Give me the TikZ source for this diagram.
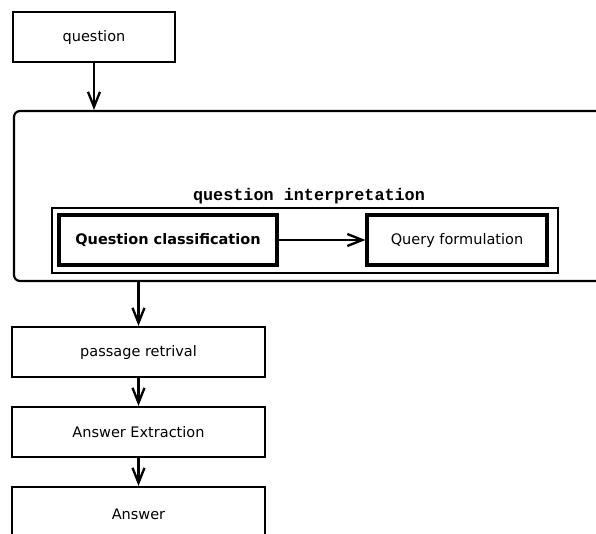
\documentclass[tikz,border=0pt]{standalone}
\usepackage{fontspec}
\setmainfont{DejaVu Sans}
\newfontfamily\monob{Liberation Mono}
\usetikzlibrary{arrows.meta}
\tikzset{
  x=1pt, y=-1pt,
  stepbox/.style={draw, line width=2.2pt, rectangle, inner sep=0pt, font=\fontsize{14.5}{16}\selectfont},
  thickbox/.style={draw, line width=3.2pt, rectangle, inner sep=0pt, minimum width=216pt, minimum height=50pt},
  flow/.style={line width=2.3pt, -{Straight Barb[length=15pt,width=12pt,line width=2.3pt]}},
}
\begin{document}
\begin{tikzpicture}
\useasboundingbox (0,0) rectangle (596,533);
\clip (0,0) rectangle (596,533);
\node[stepbox, minimum width=162pt, minimum height=50pt] (q) at (94,37) {question};
\node[draw, line width=2.2pt, rounded corners=6pt, minimum width=606pt, minimum height=170pt, inner sep=0pt] (interp) at (317,196) {};
\node[font=\monob\bfseries\fontsize{16.8}{18}\selectfont, inner sep=0pt] (lbl) at (309,196) {question interpretation};
\node[draw, line width=2pt, minimum width=506pt, minimum height=65pt, inner sep=0pt] (frame) at (305,240.5) {};
\node[thickbox, minimum width=218pt, font=\fontsize{14.5}{16}\selectfont\bfseries] (qc) at (168,240) {Question classification};
\node[thickbox, minimum width=180pt, font=\fontsize{14.5}{16}\selectfont] (qf) at (457,240) {Query formulation};
\node[stepbox, minimum width=253pt, minimum height=50pt] (pr) at (138.5,352) {passage retrival};
\node[stepbox, minimum width=253pt, minimum height=50pt] (ae) at (138.5,432) {Answer Extraction};
\node[stepbox, minimum width=253pt, minimum height=70pt] (ans) at (138.5,522) {};
\node[font=\fontsize{14.5}{16}\selectfont] (anst) at (138.5,514) {Answer};
\draw[flow] (q.south) -- (q.south |- interp.north);
\draw[flow] (qc.east) -- (qf.west);
\draw[flow] (interp.south -| pr.north) -- (pr.north);
\draw[flow] (pr.south) -- (ae.north);
\draw[flow] (ae.south) -- (ans.north);
\end{tikzpicture}
\end{document}
